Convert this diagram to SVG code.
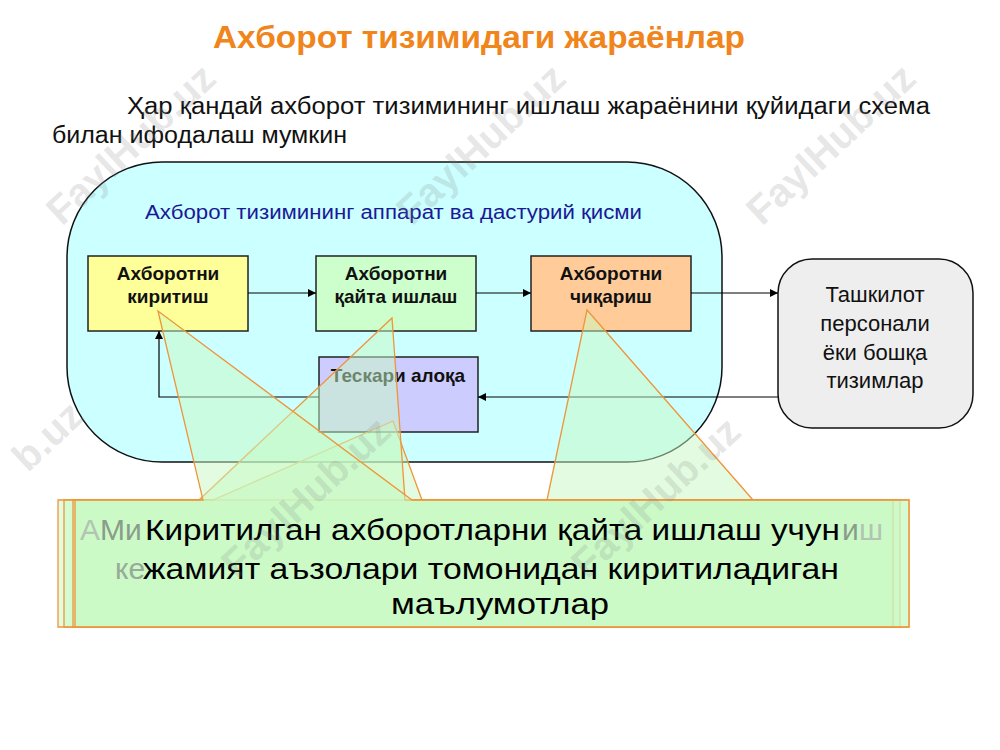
<svg xmlns="http://www.w3.org/2000/svg" width="1000" height="750" viewBox="0 0 1000 750">
<defs>
<marker id="arr" viewBox="0 0 10 10" refX="10" refY="5" markerWidth="8" markerHeight="8" markerUnits="userSpaceOnUse" orient="auto">
<path d="M0,0 L10,5 L0,10 Z" fill="#000"/>
</marker>
<style>
.t{font-family:"Liberation Sans",Arial,sans-serif}
.box{stroke:#222;stroke-width:1.5}
.bt{font-family:"Liberation Sans",Arial,sans-serif;font-weight:bold;font-size:19px;fill:#111;text-anchor:middle}
.gt{font-family:"Liberation Sans",Arial,sans-serif;font-size:22px;fill:#111;text-anchor:middle}
.con{fill:none;stroke:#000;stroke-width:1.2}
.co{fill:#C8FAC4;fill-opacity:0.5;stroke:#F0953A;stroke-width:1.3;stroke-linejoin:miter}
.ct{font-family:"Liberation Sans",Arial,sans-serif;font-size:30px}
.wm{font-family:"Liberation Sans",Arial,sans-serif;font-weight:bold;font-size:40px;fill:#808080;fill-opacity:0.2;text-anchor:middle}
</style>
</defs>
<rect width="1000" height="750" fill="#fff"/>
<text class="t" x="213" y="48" font-size="31" font-weight="bold" fill="#F0851C" textLength="532" lengthAdjust="spacingAndGlyphs">Ахборот тизимидаги жараёнлар</text>
<text class="t" x="127" y="114" font-size="23" fill="#111" textLength="803" lengthAdjust="spacingAndGlyphs">Ҳар қандай ахборот тизимининг ишлаш жараёнини қуйидаги схема</text>
<text class="t" x="52" y="143" font-size="23" fill="#111" textLength="295" lengthAdjust="spacingAndGlyphs">билан ифодалаш мумкин</text>

<g id="system">
<rect x="67" y="162" width="655" height="300" rx="95" ry="95" fill="#CCFFFF" stroke="#111" stroke-width="1.5"/>
<text class="t" x="145" y="219" font-size="20" fill="#1A1A96" textLength="497" lengthAdjust="spacingAndGlyphs">Ахборот тизимининг аппарат ва дастурий қисми</text>
</g>
<g id="input">
<rect class="box" x="88" y="256" width="160" height="75" fill="#FFFF99"/>
<text class="bt" x="168" y="280">Ахборотни</text>
<text class="bt" x="168" y="303">киритиш</text>
</g>
<g id="process">
<rect class="box" x="316" y="256" width="160" height="75" fill="#CCFFCC"/>
<text class="bt" x="396" y="280">Ахборотни</text>
<text class="bt" x="396" y="303">қайта ишлаш</text>
</g>
<g id="output">
<rect class="box" x="531" y="256" width="160" height="75" fill="#FFCC99"/>
<text class="bt" x="611" y="280">Ахборотни</text>
<text class="bt" x="611" y="303">чиқариш</text>
</g>
<g id="feedback">
<rect class="box" x="319" y="357" width="159" height="75" fill="#CCCCFF"/>
<text class="bt" x="398" y="382">Тескари алоқа</text>
</g>
<g id="org">
<rect x="778" y="259" width="195" height="169" rx="34" ry="34" fill="#EEEEEE" stroke="#111" stroke-width="1.5"/>
<text class="gt" x="875" y="302">Ташкилот</text>
<text class="gt" x="875" y="331">персонали</text>
<text class="gt" x="875" y="360">ёки бошқа</text>
<text class="gt" x="875" y="388">тизимлар</text>
</g>
<g id="connectors">
<line class="con" x1="248" y1="293" x2="316" y2="293" marker-end="url(#arr)"/>
<line class="con" x1="476" y1="293" x2="531" y2="293" marker-end="url(#arr)"/>
<line class="con" x1="691" y1="293" x2="778" y2="293" marker-end="url(#arr)"/>
<line class="con" x1="778" y1="397" x2="478" y2="397" marker-end="url(#arr)"/>
<polyline class="con" points="319,397 159,397 159,331" marker-end="url(#arr)"/>
</g>
<g id="callout-output">
<path class="co" d="M58,500 L547,500 L587,310 L753,500 L900,500 L900,627 L58,627 Z"/>
</g>
<g id="callout-feedback">
<path class="co" d="M64,500 L213,500 L393,421 L422,500 L893,500 L893,627 L64,627 Z"/>
</g>
<g id="callout-process">
<path class="co" d="M73,500 L199,500 L392,318 L405,500 L909,500 L909,627 L73,627 Z"/>
</g>
<g id="callout-input">
<path class="co" d="M75,500 L203,500 L158,311 L412,500 L909,500 L909,627 L75,627 Z"/>
<text class="ct" x="80" y="540" fill="#B2C4B2">А</text>
<text class="ct" x="100" y="540" fill="#8A9C8A">Ми</text>
<text class="ct" x="115" y="579" fill="#98AA98">ке</text>
<text class="ct" x="842" y="540" fill="#8A9C8A">и</text>
<text class="ct" x="859" y="540" fill="#B2C4B2">ш</text>
<text class="ct" x="145" y="540" fill="#000" textLength="695" lengthAdjust="spacingAndGlyphs">Киритилган ахборотларни қайта ишлаш учун</text>
<text class="ct" x="143" y="579" fill="#000" textLength="696" lengthAdjust="spacingAndGlyphs">жамият аъзолари томонидан киритиладиган</text>
<text class="ct" x="391" y="614" fill="#000" textLength="218" lengthAdjust="spacingAndGlyphs">маълумотлар</text>
</g>
<g id="watermarks">
<text class="wm" transform="translate(140,154) rotate(-43)">FaylHub.uz</text>
<text class="wm" transform="translate(490,154) rotate(-43)">FaylHub.uz</text>
<text class="wm" transform="translate(840,154) rotate(-43)">FaylHub.uz</text>
<text class="wm" transform="translate(57,446) rotate(-43)">b.uz</text>
<text class="wm" transform="translate(315,507) rotate(-43)">FaylHub.uz</text>
<text class="wm" transform="translate(665,507) rotate(-43)">FaylHub.uz</text>
</g>
</svg>
